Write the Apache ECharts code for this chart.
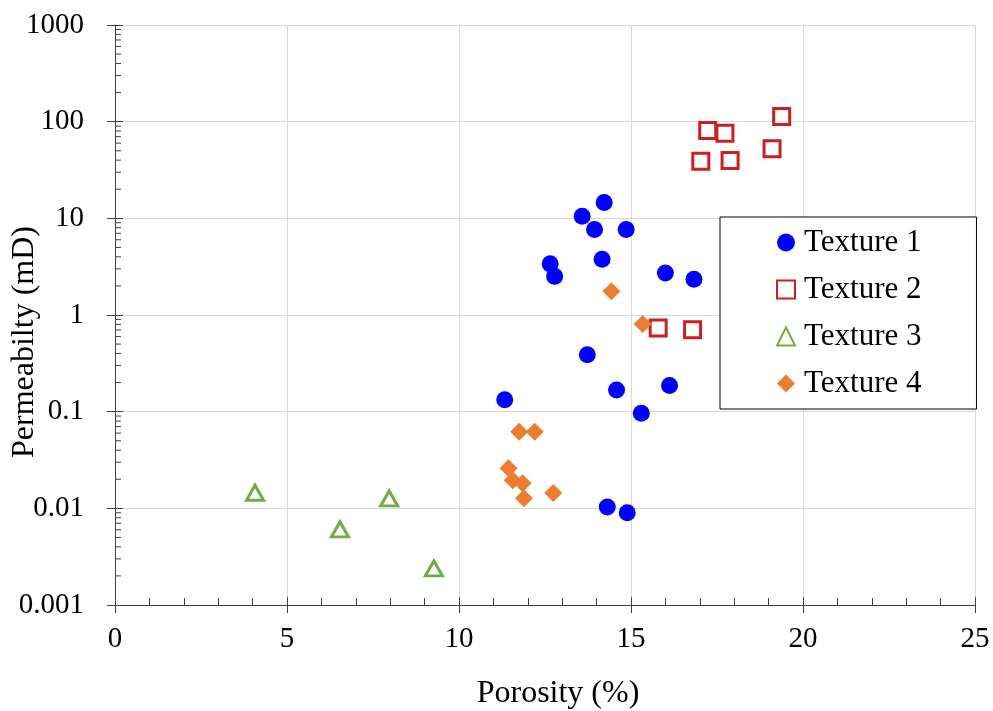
<!DOCTYPE html>
<html>
<head>
<meta charset="utf-8">
<script src="https://cdn.jsdelivr.net/npm/echarts@6/dist/echarts.min.js"></script>
<style>
html,body{margin:0;padding:0;background:#fff;}
#chart{width:993px;height:711px;}
</style>
</head>
<body>
<div id="chart"></div>
<script>
// ---- Data (porosity %, permeability mD) ----
const texture1 = [[14.22,14.6],[13.58,10.5],[13.94,7.65],[14.86,7.65],[12.65,3.38],[12.78,2.51],[14.16,3.77],[16.0,2.72],[16.83,2.34],[13.73,0.388],[14.58,0.168],[16.12,0.186],[11.33,0.133],[15.30,0.0965],[14.31,0.0103],[14.89,0.0090]];
const texture2 = [[17.23,81],[17.73,75.7],[19.38,113],[17.03,39],[17.88,39.7],[19.1,52.5],[15.79,0.733],[16.79,0.705]];
const texture3 = [[4.07,0.0145],[7.97,0.0127],[6.54,0.00606],[9.27,0.00239]];
const texture4 = [[14.43,1.76],[15.34,0.807],[11.75,0.0618],[12.20,0.0618],[11.44,0.026],[11.56,0.0195],[11.85,0.0182],[11.89,0.0127],[12.74,0.0144]];
const seriesNames = ['Texture 1','Texture 2','Texture 3','Texture 4'];
const xTickLabels = ['0','5','10','15','20','25'];
const yTickLabels = ['0.001','0.01','0.1','1','10','100','1000'];

// log minor tick positions (2..9 x 10^k)
const yMinor = [];
for (let e = -3; e < 3; e++) for (let k = 2; k <= 9; k++) yMinor.push([0, k * Math.pow(10, e)]);

const font = "'Liberation Serif','Times New Roman',serif";
const axisColor = '#404040';

const chart = echarts.init(document.getElementById('chart'), null, {renderer:'canvas'});
chart.setOption({
  backgroundColor:'#fff',
  animation:false,
  grid:{left:115, right:18, top:25, bottom:106, containLabel:false, outerBoundsMode:'none'},
  legend:{
    orient:'vertical', left:720, top:217,
    padding:[10,55,10,56], itemGap:16,
    itemWidth:18, itemHeight:18,
    borderColor:'#000', borderWidth:1, backgroundColor:'#fff',
    textStyle:{fontFamily:font, fontSize:31, color:'#000', padding:[0,0,0,4]},
    data:[
      {name:seriesNames[0], icon:'circle'},
      {name:seriesNames[1], icon:'rect'},
      {name:seriesNames[2], icon:'triangle'},
      {name:seriesNames[3], icon:'diamond'}
    ]
  },
  xAxis:[{
    type:'value', min:0, max:25, interval:5,
    name:'Porosity (%)', nameLocation:'middle', nameGap:73, nameMoveOverlap:false,
    nameTextStyle:{fontFamily:font, fontSize:32, color:'#000', padding:[0,0,0,26]},
    axisLine:{lineStyle:{color:axisColor, width:1}},
    axisTick:{inside:true, length:8, lineStyle:{color:axisColor}},
    minorTick:{show:true, splitNumber:5, length:7, lineStyle:{color:axisColor}},
    splitLine:{show:true, lineStyle:{color:'#d9d9d9', width:1}},
    axisLabel:{fontFamily:font, fontSize:29, color:'#000', margin:20,
      formatter:(v, i)=> xTickLabels[i]}
  },{
    type:'value', min:0, max:25, interval:5, position:'bottom', offset:0,
    axisLine:{show:false},
    axisTick:{inside:false, length:8, lineStyle:{color:axisColor}},
    splitLine:{show:false}, axisLabel:{show:false}
  }],
  yAxis:[{
    type:'log', logBase:10, min:0.001, max:1000,
    name:'Permeabilty (mD)', nameLocation:'middle', nameGap:74, nameMoveOverlap:false,
    nameTextStyle:{fontFamily:font, fontSize:32, color:'#000', padding:[0,54,0,0]},
    axisLine:{show:true, lineStyle:{color:axisColor, width:1}},
    axisTick:{show:true, inside:true, length:8, lineStyle:{color:axisColor}},
    splitLine:{show:true, lineStyle:{color:'#d9d9d9', width:1}},
    axisLabel:{fontFamily:font, fontSize:29, color:'#000', margin:31,
      formatter:(v, i)=> yTickLabels[i]}
  },{
    type:'log', logBase:10, min:0.001, max:1000, position:'left', offset:0,
    axisLine:{show:false},
    axisTick:{show:true, inside:false, length:8, lineStyle:{color:axisColor}},
    splitLine:{show:false}, axisLabel:{show:false}
  }],
  series:[
    {name:seriesNames[0], type:'scatter', data:texture1, symbol:'circle', symbolSize:17,
     itemStyle:{color:'#0000ff', opacity:1}},
    {name:seriesNames[1], type:'scatter', data:texture2, symbol:'rect', symbolSize:16,
     itemStyle:{color:'rgba(255,255,255,0)', borderColor:'#cc1f1f', borderWidth:3, opacity:1}},
    {name:seriesNames[2], type:'scatter', data:texture3, symbol:'triangle', symbolSize:[17,15],
     itemStyle:{color:'rgba(255,255,255,0)', borderColor:'#70ad47', borderWidth:3, opacity:1}},
    {name:seriesNames[3], type:'scatter', data:texture4, symbol:'diamond', symbolSize:18,
     itemStyle:{color:'#ed7d31', opacity:1}},
    {name:'yMinorTicks', type:'custom', silent:true, clip:false, z:1,
     xAxisIndex:0, yAxisIndex:0, data:yMinor,
     renderItem:(params, api)=>{
       const p = api.coord([0, api.value(1)]);
       return {type:'line', shape:{x1:p[0], y1:p[1], x2:p[0]+6, y2:p[1]},
               style:{stroke:axisColor, lineWidth:1}};
     }}
  ]
});
</script>
</body>
</html>
